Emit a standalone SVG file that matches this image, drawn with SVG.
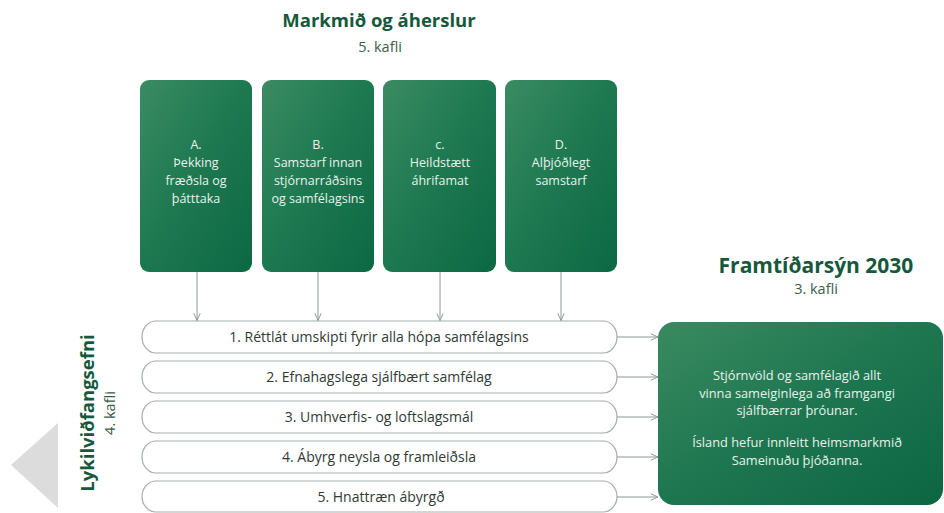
<svg xmlns="http://www.w3.org/2000/svg" width="944" height="513" viewBox="0 0 944 513">
<defs>
<linearGradient id="g1" x1="0" y1="0" x2="1" y2="1">
<stop offset="0" stop-color="#3b8b62"/>
<stop offset="0.45" stop-color="#1f7a52"/>
<stop offset="1" stop-color="#0c6843"/>
</linearGradient>
<linearGradient id="g2" x1="0" y1="0" x2="1" y2="1">
<stop offset="0" stop-color="#3a8a60"/>
<stop offset="0.5" stop-color="#1d7650"/>
<stop offset="1" stop-color="#0c6642"/>
</linearGradient>
<marker id="ah" viewBox="0 0 10 10" refX="10" refY="5" markerWidth="8" markerHeight="8" orient="auto" markerUnits="userSpaceOnUse">
<path d="M1,1 L10,5 L1,9" fill="none" stroke="#8d9893" stroke-width="1.2"/>
</marker>
<style>
.t{font-family:"Open Sans","Noto Sans","DejaVu Sans",sans-serif}
.title{font-weight:bold;font-size:18.5px;fill:#15593c}
.sub{font-size:14.5px;fill:#3b5a4c}
.bx{fill:url(#g1)}
.bt{font-size:12.5px;fill:#e8f2ec;text-anchor:middle}
.vt{font-size:12.8px;fill:#e8f2ec;text-anchor:middle}
.pill{fill:#fff;stroke:#a5ada9;stroke-width:1.2}
.pt{font-size:14px;fill:#2f3a35;text-anchor:middle}
.c{stroke:#8d9893;stroke-width:1;fill:none;marker-end:url(#ah)}
</style>
</defs>
<rect width="944" height="513" fill="#fff"/>
<polygon points="11,465 58,423 58,508" fill="#dcdcdc"/>
<g id="head-top" class="t">
<text class="title" x="379" y="27" text-anchor="middle">Markmið og áherslur</text>
<text class="sub" x="380" y="52" text-anchor="middle">5. kafli</text>
</g>
<g id="head-right" class="t">
<text class="title" x="816" y="273" text-anchor="middle" style="font-size:21px">Framtíðarsýn 2030</text>
<text class="sub" x="816" y="294" text-anchor="middle">3. kafli</text>
</g>
<g id="head-left" class="t">
<text class="title" transform="translate(94,413) rotate(-90)" text-anchor="middle">Lykilviðfangsefni</text>
<text class="sub" transform="translate(115,413) rotate(-90)" text-anchor="middle">4. kafli</text>
</g>
<g id="boxA" class="t">
<rect class="bx" x="140" y="80" width="112" height="192" rx="9"/>
<text class="bt" x="196" y="149">A.</text>
<text class="bt" x="196" y="167">Þekking</text>
<text class="bt" x="196" y="185">fræðsla og</text>
<text class="bt" x="196" y="203">þátttaka</text>
</g>
<g id="boxB" class="t">
<rect class="bx" x="262" y="80" width="112" height="192" rx="9"/>
<text class="bt" x="318" y="149">B.</text>
<text class="bt" x="318" y="167">Samstarf innan</text>
<text class="bt" x="318" y="185">stjórnarráðsins</text>
<text class="bt" x="318" y="203">og samfélagsins</text>
</g>
<g id="boxC" class="t">
<rect class="bx" x="383" y="80" width="113" height="192" rx="9"/>
<text class="bt" x="440" y="149">c.</text>
<text class="bt" x="440" y="167">Heildstætt</text>
<text class="bt" x="440" y="185">áhrifamat</text>
</g>
<g id="boxD" class="t">
<rect class="bx" x="505" y="80" width="112" height="192" rx="9"/>
<text class="bt" x="561" y="149">D.</text>
<text class="bt" x="561" y="167">Alþjóðlegt</text>
<text class="bt" x="561" y="185">samstarf</text>
</g>
<g id="p1" class="t"><rect class="pill" x="142" y="321" width="475" height="32" rx="14" ry="16"/><text class="pt" x="379" y="342">1. Réttlát umskipti fyrir alla hópa samfélagsins</text></g>
<g id="p2" class="t"><rect class="pill" x="142" y="361" width="475" height="32" rx="14" ry="16"/><text class="pt" x="379" y="382">2. Efnahagslega sjálfbært samfélag</text></g>
<g id="p3" class="t"><rect class="pill" x="142" y="401" width="475" height="32" rx="14" ry="16"/><text class="pt" x="379" y="422">3. Umhverfis- og loftslagsmál</text></g>
<g id="p4" class="t"><rect class="pill" x="142" y="441" width="475" height="32" rx="14" ry="16"/><text class="pt" x="379" y="462">4. Ábyrg neysla og framleiðsla</text></g>
<g id="p5" class="t"><rect class="pill" x="142" y="481" width="475" height="31" rx="14" ry="15.5"/><text class="pt" x="381" y="501.5">5. Hnattræn ábyrgð</text></g>
<g id="vision" class="t">
<rect x="658" y="322" width="285" height="183" rx="16" fill="url(#g2)"/>
<text class="vt" x="797" y="380">Stjórnvöld og samfélagið allt</text>
<text class="vt" x="797" y="397.5">vinna sameiginlega að framgangi</text>
<text class="vt" x="797" y="415">sjálfbærrar þróunar.</text>
<text class="vt" x="797" y="447">Ísland hefur innleitt heimsmarkmið</text>
<text class="vt" x="797" y="464.5">Sameinuðu þjóðanna.</text>
</g>
<g id="connectors">
<line class="c" x1="197" y1="272" x2="197" y2="320.5"/>
<line class="c" x1="318" y1="272" x2="318" y2="320.5"/>
<line class="c" x1="440" y1="272" x2="440" y2="320.5"/>
<line class="c" x1="561" y1="272" x2="561" y2="320.5"/>
<line class="c" x1="617" y1="337" x2="658" y2="337"/>
<line class="c" x1="617" y1="377" x2="658" y2="377"/>
<line class="c" x1="617" y1="417" x2="658" y2="417"/>
<line class="c" x1="617" y1="457" x2="658" y2="457"/>
<line class="c" x1="617" y1="497" x2="658" y2="497"/>
</g>
</svg>
